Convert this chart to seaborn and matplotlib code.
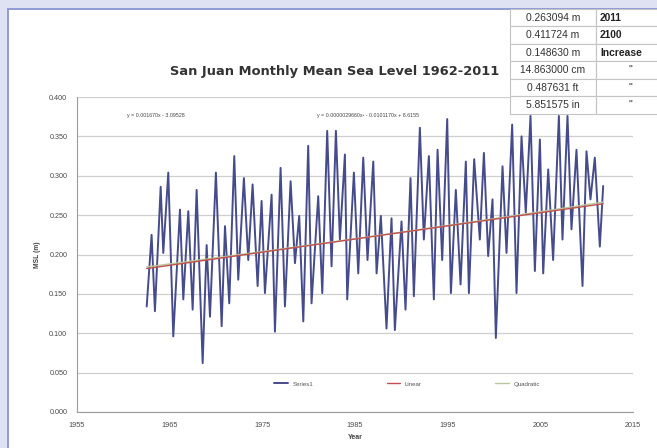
import numpy as np
import pandas as pd
import matplotlib
matplotlib.use("Agg")
import matplotlib.pyplot as plt
from matplotlib.patches import Rectangle
from matplotlib.ticker import MultipleLocator, FormatStrFormatter
import seaborn as sns

# Monthly mean sea level at San Juan, turning points of the seasonal cycle
years = [1962.52, 1963.05, 1963.41, 1964.03, 1964.31, 1964.85, 1965.39, 1966.11, 1966.47, 1967.01,
         1967.48, 1967.91, 1968.56, 1968.99, 1969.35, 1969.99, 1970.61, 1970.97, 1971.43, 1971.97,
         1972.40, 1973.01, 1973.48, 1973.95, 1974.49, 1974.92, 1975.28, 1976.00, 1976.36, 1976.97,
         1977.44, 1978.05, 1978.52, 1978.98, 1979.42, 1979.95, 1980.31, 1981.03, 1981.47, 1982.00,
         1982.47, 1982.94, 1983.37, 1983.91, 1984.16, 1984.88, 1985.35, 1985.89, 1986.35, 1986.97,
         1987.33, 1987.79, 1988.40, 1988.94, 1989.30, 1990.02, 1990.45, 1990.99, 1991.35, 1992.00,
         1992.43, 1992.97, 1993.51, 1993.91, 1994.41, 1994.95, 1995.35, 1995.88, 1996.39, 1996.96,
         1997.29, 1997.86, 1998.47, 1998.91, 1999.37, 1999.84, 2000.20, 2000.92, 2001.35, 2001.96,
         2002.43, 2002.97, 2003.43, 2003.94, 2004.41, 2004.95, 2005.31, 2005.85, 2006.38, 2007.00,
         2007.39, 2007.93, 2008.36, 2008.90, 2009.55, 2009.98, 2010.41, 2010.88, 2011.42, 2011.78]
msl = [0.134, 0.225, 0.128, 0.286, 0.202, 0.304, 0.096, 0.257, 0.143, 0.255,
       0.130, 0.282, 0.062, 0.212, 0.121, 0.304, 0.109, 0.236, 0.138, 0.325,
       0.168, 0.297, 0.193, 0.289, 0.160, 0.268, 0.151, 0.276, 0.102, 0.310,
       0.134, 0.293, 0.189, 0.249, 0.115, 0.338, 0.138, 0.274, 0.151, 0.357,
       0.185, 0.357, 0.219, 0.327, 0.143, 0.304, 0.176, 0.323, 0.193, 0.318,
       0.176, 0.249, 0.106, 0.246, 0.104, 0.242, 0.130, 0.297, 0.147, 0.361,
       0.219, 0.325, 0.143, 0.333, 0.193, 0.372, 0.151, 0.282, 0.162, 0.318,
       0.151, 0.321, 0.219, 0.329, 0.198, 0.270, 0.094, 0.312, 0.202, 0.365,
       0.151, 0.350, 0.253, 0.376, 0.179, 0.346, 0.176, 0.308, 0.193, 0.376,
       0.219, 0.376, 0.232, 0.333, 0.160, 0.331, 0.270, 0.323, 0.210, 0.287]

# Trendline coefficients
lin_coef = [0.001670, -3.09528]
quad_coef = [0.0000029660, -0.0101170, 8.6155]

# Projection table
table_left = ["0.263094 m", "0.411724 m", "0.148630 m", "14.863000 cm", "0.487631 ft", "5.851575 in"]
table_right = ["2011", "2100", "Increase", '"', '"', '"']

x_ticks = [1955, 1965, 1975, 1985, 1995, 2005, 2015]

sns.set_style("white")
plt.rcParams["font.family"] = ["Liberation Sans", "DejaVu Sans"]

W, H = 657, 448
fig = plt.figure(figsize=(W / 100, H / 100), dpi=100)
fig.patch.set_facecolor("#dfe2f2")


def fx(px):
    return px / W


def fy(py):
    return 1 - py / H


# White chart panel inside the lavender frame
panel_top = 9
fig.add_artist(Rectangle((fx(8), fy(470)), fx(700), (470 - panel_top) / H,
                         transform=fig.transFigure, facecolor="white",
                         edgecolor="#8e9bd2", lw=1.4, zorder=0))

ax = fig.add_axes([fx(77), fy(412), fx(633 - 77), (412 - 97) / H])
ax.set_facecolor("none")

df = pd.DataFrame({"Year": years, "MSL (m)": msl})
sns.lineplot(data=df, x="Year", y="MSL (m)", ax=ax, color="#464b8c", lw=1.4,
             label="Series1", zorder=3)

xs = np.linspace(years[0], years[-1], 200)
trend = pd.DataFrame({
    "Year": xs,
    "Linear": np.polyval(lin_coef, xs),
    "Quadratic": np.polyval(quad_coef, xs),
})
sns.lineplot(data=trend, x="Year", y="Quadratic", ax=ax, color="#b9c79c", lw=1.0,
             label="Quadratic", zorder=4)
sns.lineplot(data=trend, x="Year", y="Linear", ax=ax, color="#c0504d", lw=1.0,
             label="Linear", zorder=5)

ax.set_xlim(1955, 2015)
ax.set_ylim(0, 0.4)
ax.set_xticks(x_ticks)
ax.xaxis.set_minor_locator(MultipleLocator(5))
ax.yaxis.set_major_locator(MultipleLocator(0.05))
ax.yaxis.set_major_formatter(FormatStrFormatter("%.3f"))
ax.grid(axis="y", color="#cfcfcf", lw=0.9)
ax.grid(axis="x", visible=False)
for side in ("top", "right"):
    ax.spines[side].set_visible(False)
for side in ("left", "bottom"):
    ax.spines[side].set_color("#9a9a9a")
    ax.spines[side].set_linewidth(0.8)
ax.tick_params(axis="both", labelsize=5.2, colors="#9a9a9a", labelcolor="#4a4a4a",
               length=3, width=0.7, pad=4)
ax.tick_params(axis="x", which="minor", length=2, width=0.5, colors="#b0b0b0")
ax.set_xlabel("Year", fontsize=5, fontweight="bold", color="#444444", labelpad=4)
ax.set_ylabel("MSL (m)", fontsize=4.8, fontweight="bold", color="#444444", labelpad=6)

handles, labels = ax.get_legend_handles_labels()
order = [labels.index(k) for k in ("Series1", "Linear", "Quadratic")]
ax.legend([handles[i] for i in order], [labels[i] for i in order], ncol=3,
          loc="center", bbox_to_anchor=((407 - 77) / (633 - 77), (412 - 384) / (412 - 97)),
          frameon=False, fontsize=4.4, handlelength=2.2, columnspacing=12,
          labelcolor="#555555")

fig.text(fx(335), fy(71), "San Juan Monthly Mean Sea Level 1962-2011", ha="center",
         va="center", fontsize=9.4, fontweight="bold", color="#333333",
         family=["DejaVu Sans"])

fig.text(fx(127), fy(115), "y = 0.001670x - 3.09528", fontsize=3.8, color="#444444",
         va="center")
fig.text(fx(317), fy(115), "y = 0.0000029660x\u00b2 - 0.0101170x + 8.6155", fontsize=3.8,
         color="#444444", va="center")

# Projection table in the upper right corner
top, row_h = 9, 17.5
c0, c1, c2 = 510, 596, 670
for i, (lt, rt) in enumerate(zip(table_left, table_right)):
    y0 = top + i * row_h
    for xa, xb in ((c0, c1), (c1, c2)):
        fig.add_artist(Rectangle((fx(xa), fy(y0 + row_h)), fx(xb - xa), row_h / H,
                                 transform=fig.transFigure, facecolor="white",
                                 edgecolor="#c4c4c4", lw=0.8, zorder=5))
    fig.text(fx((c0 + c1) / 2), fy(y0 + row_h / 2), lt, ha="center", va="center",
             fontsize=7.4, color="#333333", zorder=6)
    if rt == '"':
        fig.text(fx(630), fy(y0 + row_h / 2), rt, ha="center", va="center",
                 fontsize=7.4, color="#333333", zorder=6)
    else:
        fig.text(fx(600), fy(y0 + row_h / 2), rt, ha="left", va="center",
                 fontsize=7.4, fontweight="bold", color="#222222", zorder=6)

fig.savefig("out.png", dpi=100, facecolor=fig.get_facecolor())
